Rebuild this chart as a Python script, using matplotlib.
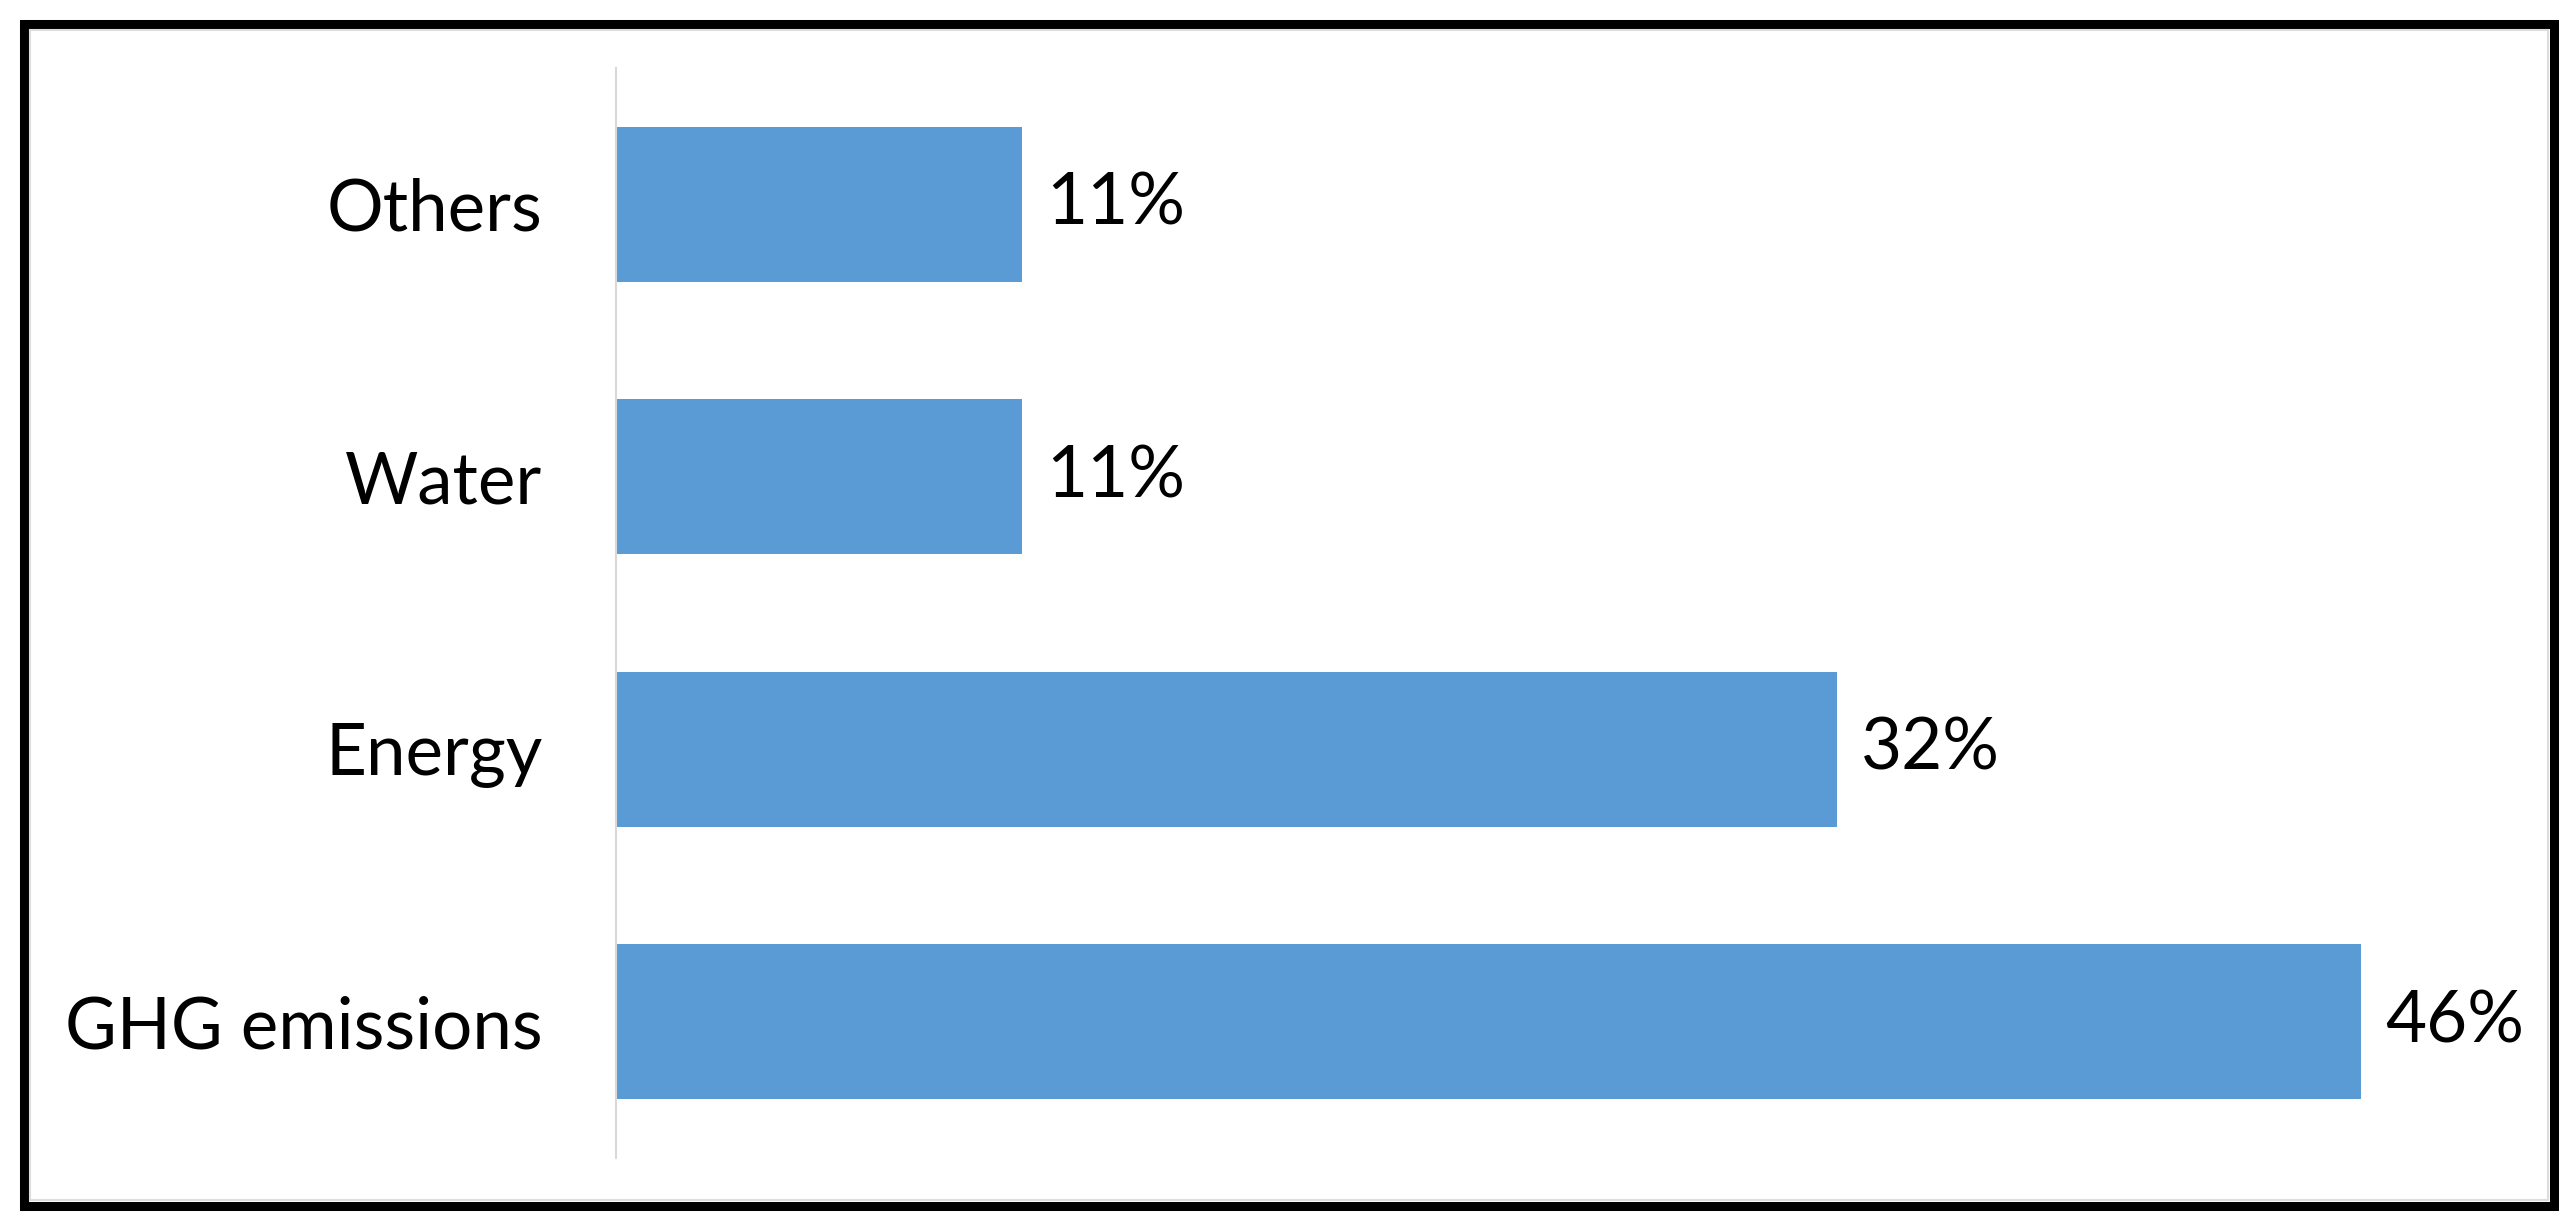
import matplotlib.pyplot as plt
from matplotlib.patches import Rectangle

categories = ["GHG emissions", "Energy", "Water", "Others"]
values = [46.0, 32.2, 10.7, 10.7]
labels = ["46%", "32%", "11%", "11%"]

bar_color = "#5B9BD5"
plt.rcParams["font.family"] = ["Lato", "DejaVu Sans"]

fig = plt.figure(figsize=(25.75, 12.27), dpi=100)
ax = fig.add_axes([616 / 2575, 1 - 1158 / 1227, 50 * 37.93 / 2575, 1090 / 1227])

y = range(len(categories))
bars = ax.barh(y, values, height=0.57, color=bar_color)
for b, lab in zip(bars, labels):
    ax.text(b.get_width() + 0.63, b.get_y() + b.get_height() / 2, lab,
            va="center", ha="left", fontsize=51, color="black")

ax.set_yticks(list(y))
ax.set_yticklabels(categories, fontsize=51, color="black")
ax.tick_params(axis="y", length=0, pad=53)
ax.set_xticks([])
ax.set_xlim(0, 50)
ax.set_ylim(-0.5, 3.5)
for s in ["top", "right", "bottom"]:
    ax.spines[s].set_visible(False)
ax.spines["left"].set_color("#D9D9D9")
ax.spines["left"].set_linewidth(1.5)

# frame round the whole picture
fig.patches.append(Rectangle((24 / 2575, 1 - 1206 / 1227), (2554 - 24) / 2575, (1206 - 24) / 1227,
                             transform=fig.transFigure, fill=False, edgecolor="black", linewidth=6.5))
fig.patches.append(Rectangle((30 / 2575, 1 - 1200 / 1227), (2548 - 30) / 2575, (1200 - 30) / 1227,
                             transform=fig.transFigure, fill=False, edgecolor="#DDDDDD", linewidth=1.5))

plt.savefig("out.png", dpi=100)
